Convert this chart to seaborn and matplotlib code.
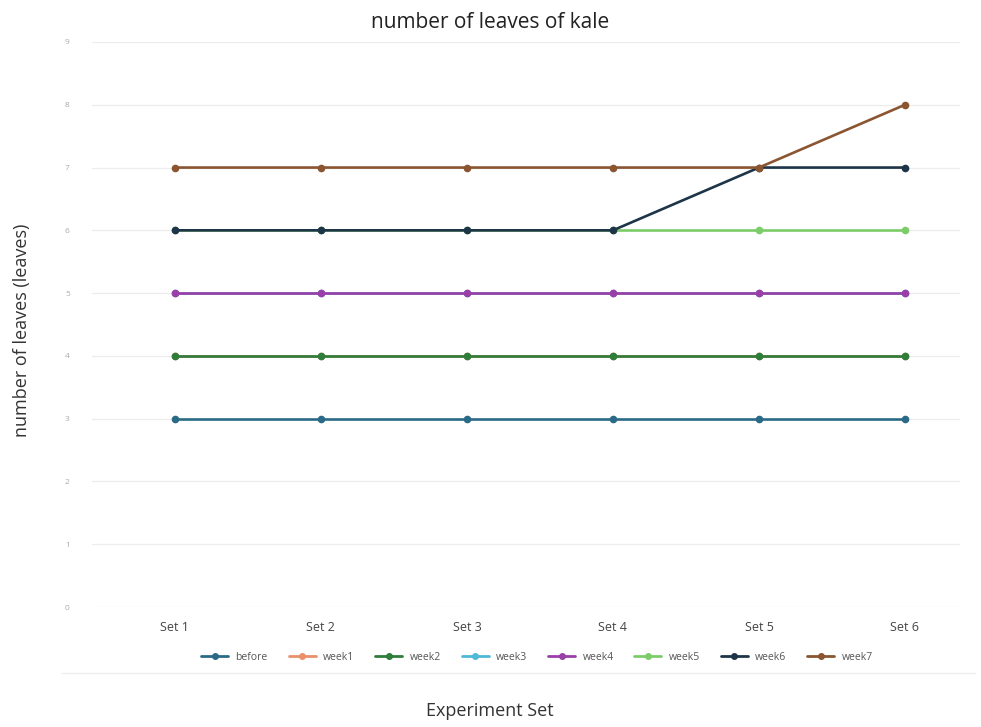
import matplotlib
matplotlib.use("Agg")
import matplotlib.pyplot as plt
import matplotlib.lines as mlines
import seaborn as sns
import pandas as pd

# Data
sets = ["Set 1", "Set 2", "Set 3", "Set 4", "Set 5", "Set 6"]
before = [3, 3, 3, 3, 3, 3]
week1 = [4, 4, 4, 4, 4, 4]
week2 = [4, 4, 4, 4, 4, 4]
week3 = [5, 5, 5, 5, 5, 5]
week4 = [5, 5, 5, 5, 5, 5]
week5 = [6, 6, 6, 6, 6, 6]
week6 = [6, 6, 6, 6, 7, 7]
week7 = [7, 7, 7, 7, 7, 8]
series_names = ["before", "week1", "week2", "week3", "week4", "week5", "week6", "week7"]
colors = ["#2b6a87", "#e8916a", "#2e7d3a", "#4fb9d8", "#9b3fa8", "#7ccc6a", "#1e3448", "#8a5530"]

series = [before, week1, week2, week3, week4, week5, week6, week7]
rows = []
for name, vals in zip(series_names, series):
    for i, (s, v) in enumerate(zip(sets, vals)):
        rows.append({"set": i, "label": s, "series": name, "leaves": v})
df = pd.DataFrame(rows)

sns.set_theme(style="white")
plt.rcParams["font.family"] = ["Open Sans", "DejaVu Sans"]

fig = plt.figure(figsize=(9.81, 7.27), dpi=100)
ax = fig.add_axes([92 / 981, 1 - 607 / 727, (960 - 92) / 981, (607 - 42) / 727])

palette = dict(zip(series_names, colors))
sns.lineplot(data=df, x="set", y="leaves", hue="series", hue_order=series_names,
             palette=palette, marker="o", markersize=5.5, markeredgewidth=0,
             linewidth=1.9, ax=ax, legend=False, sort=False)

ax.set_xlim(-0.568, 5.377)
ax.set_ylim(0, 9)
ax.set_yticks(range(0, 10))
ax.set_yticklabels([str(v) for v in range(0, 10)], fontsize=6, color="#aaaaaa")
ax.set_xticks(range(len(sets)))
ax.set_xticklabels(sets, fontsize=9, color="#444444")
ax.tick_params(axis="both", length=0)
ax.tick_params(axis="y", pad=16)
ax.tick_params(axis="x", pad=10)
ax.grid(axis="y", color="#ececec", linewidth=0.9)
ax.set_axisbelow(True)
for sp in ax.spines.values():
    sp.set_visible(False)

ax.set_xlabel("")
ax.set_ylabel("")
fig.text(22 / 981, 1 - 330 / 727, "number of leaves (leaves)", rotation=90,
         ha="center", va="center", fontsize=13, color="#333333")
fig.text(490 / 981, 1 - 711 / 727, "Experiment Set", ha="center", va="center",
         fontsize=13, color="#333333")
fig.text(490 / 981, 1 - 22 / 727, "number of leaves of kale", ha="center", va="center",
         fontsize=15, color="#222222")

handles = [mlines.Line2D([], [], color=c, marker="o", markersize=4, linewidth=2)
           for c in colors]
leg = fig.legend(handles, series_names, loc="center", bbox_to_anchor=(537 / 981, 1 - 657 / 727),
                 ncol=8, frameon=False, fontsize=7.5, handlelength=2.6, columnspacing=2.0,
                 handletextpad=0.7, labelcolor="#555555")

fig.add_artist(mlines.Line2D([62 / 981, 975 / 981], [1 - 673 / 727, 1 - 673 / 727],
                             color="#eeeeee", linewidth=1.0))

fig.savefig("out.png", dpi=100, facecolor="white")
